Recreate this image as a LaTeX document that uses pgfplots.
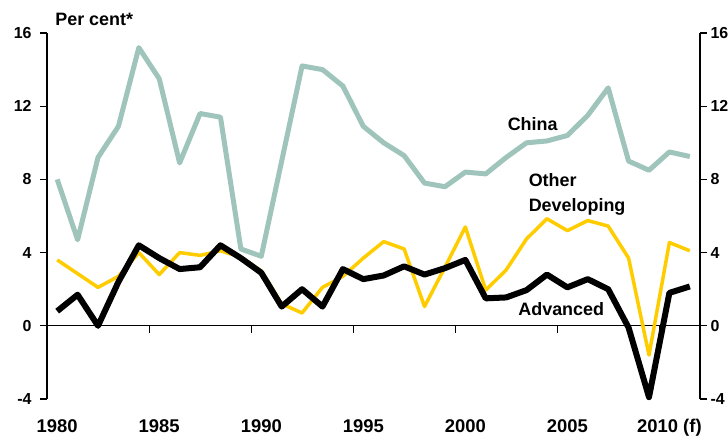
\documentclass[border=0pt]{standalone}
\usepackage{pgfplots}
\pgfplotsset{compat=1.18}
\usepackage{fontspec}
\setmainfont{Liberation Sans}
\definecolor{chinac}{RGB}{159,196,187}
\definecolor{devc}{RGB}{255,204,0}
\pgfplotsset{
  common/.style={
    scale only axis, width=653bp, height=366bp,
    xmin=1979.5, xmax=2011.5, ymin=-4, ymax=16,
    ytick={-4,0,4,8,12,16},
    /pgf/number format/assume math mode=true,
    tick align=outside, major tick length=7bp,
    axis line style={line width=1.1bp,-},
    every tick/.style={black, line width=1.1bp},
    yticklabel style={font=\bfseries\fontsize{16}{18}\selectfont},
    clip=false,
  }
}
\begin{document}
\begin{tikzpicture}
\begin{axis}[common, name=main,
  axis y line*=left,
  axis x line*=bottom,
  x axis line style={draw=none},
  xtick={1980,1985,1990,1995,2000,2005,2010},
  xticklabels={1980,1985,1990,1995,2000,2005,2010 (f)},
  x tick style={draw=none},
  xticklabel style={font=\bfseries\fontsize{18.5}{20}\selectfont, yshift=-10bp},
  yticklabel style={xshift=-5bp},
]
\addplot[black, line width=0.9bp, mark=none] coordinates {(1979.5,0) (2011.5,0)};
\addplot[ycomb, black, line width=0.9bp, mark=none] coordinates {
(1984.5,-0.38) (1989.5,-0.38) (1994.5,-0.38) (1999.5,-0.38) (2004.5,-0.38) (2009.5,-0.38)};
% China
\addplot[chinac, line width=5bp, mark=none, line join=round] coordinates {
(1980,8.0) (1981,4.7) (1982,9.2) (1983,10.9) (1984,15.2) (1985,13.5) (1986,8.9) (1987,11.6)
(1988,11.4) (1989,4.2) (1990,3.8) (1991,9.0) (1992,14.2) (1993,14.0) (1994,13.1) (1995,10.9)
(1996,10.0) (1997,9.3) (1998,7.8) (1999,7.6) (2000,8.4) (2001,8.3) (2002,9.2) (2003,10.0)
(2004,10.1) (2005,10.4) (2006,11.5) (2007,13.0) (2008,9.0) (2009,8.5) (2010,9.5) (2011,9.25)};
% Other developing
\addplot[devc, line width=3.5bp, mark=none, line join=round] coordinates {
(1980,3.6) (1981,2.85) (1982,2.1) (1983,2.7) (1984,4.0) (1985,2.8) (1986,4.0) (1987,3.85)
(1988,4.1) (1989,3.75) (1990,3.0) (1991,1.2) (1992,0.7) (1993,2.1) (1994,2.7) (1995,3.7)
(1996,4.6) (1997,4.2) (1998,1.05) (1999,3.2) (2000,5.4) (2001,1.95) (2002,3.05) (2003,4.75)
(2004,5.85) (2005,5.2) (2006,5.75) (2007,5.45) (2008,3.7) (2009,-1.6) (2010,4.55) (2011,4.1)};
% Advanced
\addplot[black, line width=6bp, mark=none, line join=round] coordinates {
(1980,0.8) (1981,1.7) (1982,0.0) (1983,2.4) (1984,4.4) (1985,3.7) (1986,3.1) (1987,3.2)
(1988,4.4) (1989,3.7) (1990,2.9) (1991,1.05) (1992,2.0) (1993,1.05) (1994,3.1) (1995,2.55)
(1996,2.75) (1997,3.25) (1998,2.8) (1999,3.15) (2000,3.6) (2001,1.5) (2002,1.55) (2003,1.95)
(2004,2.8) (2005,2.1) (2006,2.55) (2007,2.0) (2008,-0.1) (2009,-3.9) (2010,1.8) (2011,2.15)};
\node[font=\bfseries\fontsize{18}{20}\selectfont] at (axis cs:2003.3,11.0) {China};
\node[font=\bfseries\fontsize{18}{25}\selectfont, anchor=west, align=left, inner sep=0pt] at (axis cs:2003.1,7.2) {Other\\Developing};
\node[font=\bfseries\fontsize{18}{20}\selectfont] at (axis cs:2004.7,0.93) {Advanced};
\node[font=\bfseries\fontsize{18}{20}\selectfont, anchor=west, inner sep=0pt] at (axis cs:1979.9,16.72) {Per cent*};
\end{axis}
\begin{axis}[common, at={(main.south west)}, anchor=south west,
  axis y line*=right, axis x line=none]
\end{axis}
\pgfresetboundingbox
\path[use as bounding box] ([xshift=-47bp,yshift=-41bp]main.south west) rectangle ([xshift=28bp,yshift=33bp]main.north east);
\end{tikzpicture}
\end{document}
